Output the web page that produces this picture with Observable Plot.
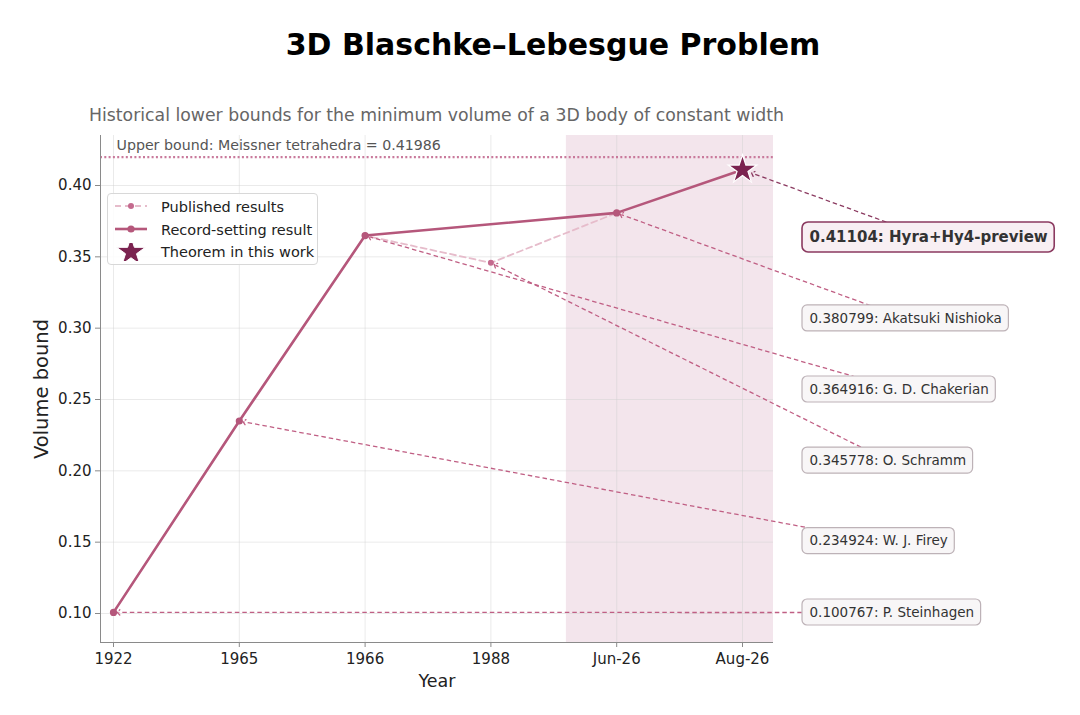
<!DOCTYPE html>
<html><head><meta charset="utf-8">
<script src="https://cdn.jsdelivr.net/npm/d3@7"></script>
<script src="https://cdn.jsdelivr.net/npm/@observablehq/plot@0.6"></script>
<style>
body{margin:0;background:#fff;font-family:"DejaVu Sans",sans-serif;}
#wrap{position:relative;width:1080px;height:715px;overflow:hidden;background:#fff;}
#title{position:absolute;top:0;left:553px;transform:translateX(-50%);white-space:nowrap;font-weight:bold;font-size:30px;line-height:90px;color:#000;}
#subtitle{position:absolute;top:100px;left:89px;white-space:nowrap;font-size:17.3px;line-height:30px;color:#666;}
#chart{position:absolute;top:125px;left:0;}
#legend{position:absolute;top:193px;left:107px;width:209px;height:70px;border:1px solid #d8d8d8;border-radius:4px;background:rgba(255,255,255,0.85);font-size:14.5px;color:#222;}
.item{position:absolute;left:0;height:22px;display:flex;align-items:center;}
.item svg{margin-left:5px;margin-right:12px;}
</style></head>
<body>
<div id="wrap">
  <div id="title">3D Blaschke–Lebesgue Problem</div>
  <div id="subtitle">Historical lower bounds for the minimum volume of a 3D body of constant width</div>
  <div id="chart"></div>
  <div id="legend"></div>
</div>
<script>
// ---- data ----
const categories = ["1922", "1965", "1966", "1988", "Jun-26", "Aug-26"];
const publishedIdx = [0, 1, 2, 3, 4];
const publishedValues = [0.100767, 0.234924, 0.364916, 0.345778, 0.380799];
const recordIdx = [0, 1, 2, 4, 5];
const recordValues = [0.100767, 0.234924, 0.364916, 0.380799, 0.41104];
const theoremIdx = [5];
const theoremValues = [0.41104];
const authors = ["P. Steinhagen", "W. J. Firey", "G. D. Chakerian", "O. Schramm", "Akatsuki Nishioka", "Hyra+Hy4-preview"];
const authorIdx = [0, 1, 2, 3, 4, 5];
const authorValues = [0.100767, 0.234924, 0.364916, 0.345778, 0.380799, 0.41104];
const labelY = [0.1007, 0.1508, 0.2570, 0.2072, 0.3068, 0.3636]; // label placement (data units)
const upperBound = 0.41986;
const yTicks = [0.10, 0.15, 0.20, 0.25, 0.30, 0.35, 0.40];
const shadeStart = 3.6;

// ---- layout ----
const W = 1080, H = 590;
const mL = 100, mR = 307, mT = 10, mB = 73;
const xDom = [-0.10334, 5.24642], yDom = [0.079673, 0.435047];
const kx = (W - mL - mR) / (xDom[1] - xDom[0]);
const ky = (H - mT - mB) / (yDom[1] - yDom[0]);
const labelX = 5.477;

const C = {rec: "#b5577b", pub: "#e6bccb", pubDot: "#c46a8e", star: "#7b2350", ann: "#c05f84", annDark: "#8b3a60", shade: "#f3e5ec"};

const ctx = document.createElement("canvas").getContext("2d");
function tw(s, font) { ctx.font = font; return ctx.measureText(s).width; }

const published = publishedIdx.map((x, i) => ({x, y: publishedValues[i]}));
const record = recordIdx.map((x, i) => ({x, y: recordValues[i]}));
const theorem = theoremIdx.map((x, i) => ({x, y: theoremValues[i]}));

const ann = authors.map((a, i) => {
  const bold = i === authors.length - 1;
  const text = `${authorValues[i]}: ${a}`;
  const fs = bold ? 15 : 13.5;
  const w = tw(text, `${bold ? "bold " : ""}${fs}px "DejaVu Sans"`);
  const pad = 7, h = bold ? 30 : 26;
  const x1 = labelX, x2 = labelX + (w + 2 * pad) / kx;
  const y1 = labelY[i] - h / 2 / ky, y2 = labelY[i] + h / 2 / ky;
  const cx = (x1 + x2) / 2, cy = labelY[i];
  const px = authorIdx[i], py = authorValues[i];
  const L = Math.hypot((px - cx) * kx, (py - cy) * ky);
  const s = bold ? 11 : 5;
  const ex = px - (px - cx) * s / L, ey = py - (py - cy) * s / L;
  return {text, bold, fs, x1, x2, y1, y2, cx, cy, ex, ey, tx: labelX + pad / kx};
});
const annBold = ann.filter(d => d.bold);
const annNorm = ann.filter(d => !d.bold);

const plot = Plot.plot({
  width: W, height: H,
  marginLeft: mL, marginRight: mR, marginTop: mT, marginBottom: mB,
  x: {type: "linear", domain: xDom},
  y: {type: "linear", domain: yDom},
  style: {fontFamily: "DejaVu Sans", fontSize: "15px", color: "#222", background: "transparent", overflow: "visible"},
  marks: [
    Plot.rect([{x1: shadeStart, x2: xDom[1]}], {x1: "x1", x2: "x2", y1: yDom[0], y2: yDom[1], fill: C.shade}),
    Plot.gridX({ticks: [0, 1, 2, 3, 4, 5], stroke: "#d0d0d0", strokeOpacity: 0.45}),
    Plot.gridY({ticks: yTicks, stroke: "#d0d0d0", strokeOpacity: 0.45}),
    Plot.ruleY([upperBound], {stroke: "#c97a9c", strokeWidth: 2.3, strokeDasharray: "2 2.3"}),
    Plot.text(["Upper bound: Meissner tetrahedra = 0.41986"], {frameAnchor: "top-left", dx: 16, dy: 10, lineAnchor: "middle", textAnchor: "start", fontSize: 14.2, fill: "#555"}),
    Plot.ruleX([xDom[0]], {stroke: "#8a8a8a", strokeWidth: 1}),
    Plot.ruleY([yDom[0]], {stroke: "#8a8a8a", strokeWidth: 1}),
    Plot.axisX({ticks: [0, 1, 2, 3, 4, 5], tickFormat: i => categories[i], fontSize: 15, tickSize: 5, tickPadding: 6, stroke: "#8a8a8a", fill: "#222", label: null}),
    Plot.axisY({ticks: yTicks, tickFormat: d3.format(".2f"), fontSize: 15, tickSize: 5, tickPadding: 4, stroke: "#8a8a8a", fill: "#222", label: null}),
    Plot.text(["Year"], {frameAnchor: "bottom", dy: 44, fontSize: 17.5, fill: "#222"}),
    Plot.text(["Volume bound"], {x: xDom[0] - 59 / kx, y: (yDom[0] + yDom[1]) / 2, rotate: -90, fontSize: 19.5, fill: "#222"}),
    // published results
    Plot.line(published, {x: "x", y: "y", stroke: C.pub, strokeWidth: 1.8, strokeDasharray: "6 4"}),
    // annotation connectors
    Plot.link(ann, {x1: "cx", y1: "cy", x2: "ex", y2: "ey", stroke: d => d.bold ? C.annDark : C.ann, strokeWidth: 1.3, strokeDasharray: "4.5 3", markerEnd: "arrow"}),
    Plot.dot(published, {x: "x", y: "y", r: 3, fill: C.pubDot}),
    // record line
    Plot.line(record, {x: "x", y: "y", stroke: C.rec, strokeWidth: 2.6}),
    Plot.dot(record, {x: "x", y: "y", r: 3.6, fill: C.rec}),
    Plot.dot(theorem, {x: "x", y: "y", r: 9, symbol: "star", fill: C.star, stroke: "white", strokeWidth: 1.2}),
    // label boxes
    Plot.rect(annNorm, {x1: "x1", x2: "x2", y1: "y1", y2: "y2", rx: 5, fill: "#f8f6f7", stroke: "#bdb2b7", strokeWidth: 1.2}),
    Plot.rect(annBold, {x1: "x1", x2: "x2", y1: "y1", y2: "y2", rx: 6, fill: "#f8eff3", stroke: C.annDark, strokeWidth: 1.6}),
    Plot.text(annNorm, {x: "tx", y: "cy", text: "text", textAnchor: "start", fontSize: 13.5, fill: "#333"}),
    Plot.text(annBold, {x: "tx", y: "cy", text: "text", textAnchor: "start", fontSize: 15, fontWeight: "bold", fill: "#333"})
  ]
});
document.getElementById("chart").appendChild(plot);

// legend
const legendItems = [
  {label: "Published results", svg: `<line x1="2" y1="8" x2="34" y2="8" stroke="${C.pub}" stroke-width="1.8" stroke-dasharray="6 4"/><circle cx="18" cy="8" r="3" fill="${C.pubDot}"/>`},
  {label: "Record-setting result", svg: `<line x1="2" y1="8" x2="34" y2="8" stroke="${C.rec}" stroke-width="2.6"/><circle cx="18" cy="8" r="3.6" fill="${C.rec}"/>`},
  {label: "Theorem in this work", svg: `<path transform="translate(18,9)" d="${d3.symbol(d3.symbolStar, Math.PI * 81)()}" fill="${C.star}" stroke="white" stroke-width="1"/>`}
];
const lg = document.getElementById("legend");
legendItems.forEach((it, i) => {
  const d = document.createElement("div");
  d.className = "item";
  d.style.top = (2 + i * 22.5) + "px";
  d.innerHTML = `<svg width="36" height="18" viewBox="0 0 36 18">${it.svg}</svg><span>${it.label}</span>`;
  lg.appendChild(d);
});
</script>
</body></html>
